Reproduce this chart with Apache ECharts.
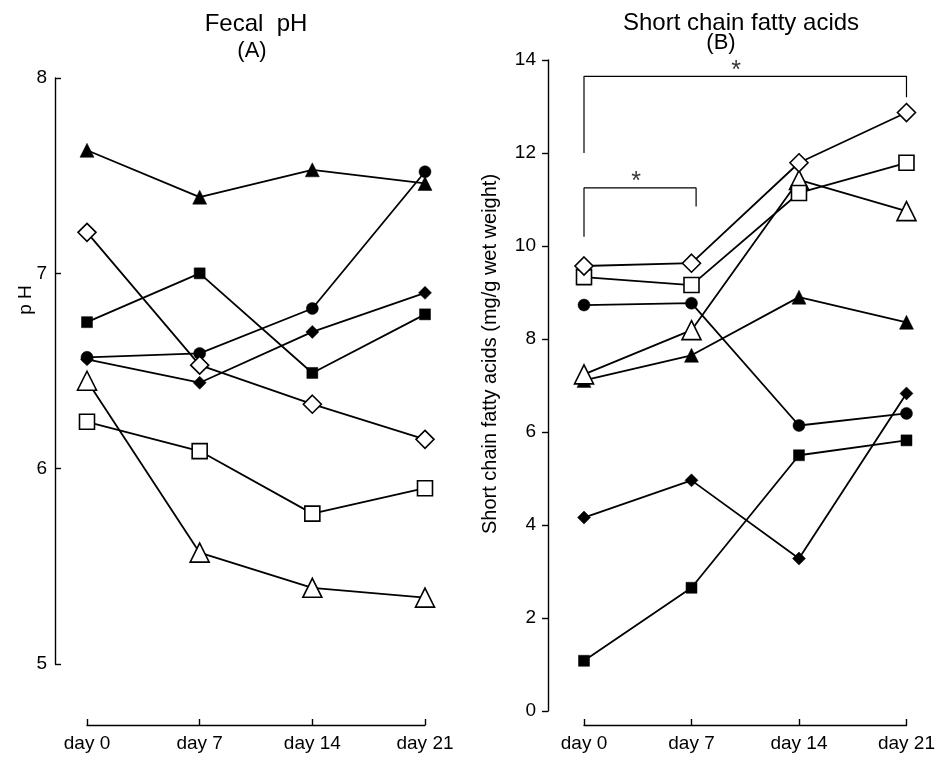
<!DOCTYPE html>
<html>
<head>
<meta charset="utf-8">
<script src="https://cdn.jsdelivr.net/npm/echarts@6/dist/echarts.min.js"></script>
<style>
html,body{margin:0;padding:0;background:#fff;}
#chart{width:938px;height:760px;}
</style>
</head>
<body>
<div id="chart"></div>
<script>
// ---- data ----
const days = [0, 7, 14, 21];
const dayLabels = ['day 0', 'day 7', 'day 14', 'day 21'];
const phTicks = [5, 6, 7, 8];
const scfaTicks = [0, 2, 4, 6, 8, 10, 12, 14];

// Panel A: Fecal pH
const phFilledTriangle = [7.63, 7.39, 7.53, 7.46];
const phFilledCircle   = [6.57, 6.59, 6.82, 7.52];
const phOpenDiamond    = [7.21, 6.53, 6.33, 6.15];
const phFilledSquare   = [6.75, 7.00, 6.49, 6.79];
const phFilledDiamond  = [6.56, 6.44, 6.70, 6.90];
const phOpenTriangle   = [6.45, 5.57, 5.39, 5.34];
const phOpenSquare     = [6.24, 6.09, 5.77, 5.90];

// Panel B: Short chain fatty acids
const scfaOpenDiamond    = [9.57, 9.63, 11.79, 12.87];
const scfaOpenSquare     = [9.33, 9.16, 11.14, 11.79];
const scfaFilledCircle   = [8.73, 8.77, 6.14, 6.40];
const scfaOpenTriangle   = [7.24, 8.19, 11.42, 10.75];
const scfaFilledTriangle = [7.11, 7.65, 8.90, 8.36];
const scfaFilledDiamond  = [4.16, 4.96, 3.28, 6.83];
const scfaFilledSquare   = [1.08, 2.65, 5.50, 5.82];

// significance brackets (panel B), in data units [day, value]
const bracketAll = [[0, 12.0], [0, 13.65], [21, 13.65], [21, 13.2]];
const bracket7   = [[0, 10.2], [0, 11.25], [7.3, 11.25], [7.3, 10.85]];
const starMarks  = [[9.9, 13.65], [3.4, 11.25]];

// ---- build ----
const FONT = 'Liberation Sans, Arial, Helvetica, sans-serif';
const chart = echarts.init(document.getElementById('chart'));

const shapes = {
  filledTriangle: {symbol: 'triangle', size: 14, fill: '#000'},
  filledCircle:   {symbol: 'circle',   size: 12, fill: '#000'},
  openDiamond:    {symbol: 'diamond',  size: 18, fill: '#fff'},
  filledSquare:   {symbol: 'rect',     size: 11, fill: '#000'},
  filledDiamond:  {symbol: 'diamond',  size: 13, fill: '#000'},
  openTriangle:   {symbol: 'triangle', size: 19, fill: '#fff'},
  openSquare:     {symbol: 'rect',     size: 15, fill: '#fff'}
};

function pairs(vals){ return days.map((d,i)=>[d, vals[i]]); }

const series = [];
function addGroup(gi, list){
  list.forEach(([key, vals])=>{
    series.push({
      type: 'line', xAxisIndex: gi, yAxisIndex: gi,
      data: pairs(vals), showSymbol: false, z: 2, silent: true,
      lineStyle: {color: '#000', width: 1.8}
    });
  });
  list.forEach(([key, vals])=>{
    const s = shapes[key];
    series.push({
      type: 'scatter', xAxisIndex: gi, yAxisIndex: gi,
      data: pairs(vals), symbol: s.symbol, symbolSize: s.size, z: 3, silent: true,
      itemStyle: {color: s.fill, borderColor: '#000', borderWidth: s.fill === '#fff' ? 1.6 : 0.5, opacity: 1}
    });
  });
}
addGroup(0, [
  ['filledTriangle', phFilledTriangle],
  ['filledSquare', phFilledSquare],
  ['filledDiamond', phFilledDiamond],
  ['filledCircle', phFilledCircle],
  ['openSquare', phOpenSquare],
  ['openTriangle', phOpenTriangle],
  ['openDiamond', phOpenDiamond]
]);
addGroup(1, [
  ['filledSquare', scfaFilledSquare],
  ['filledDiamond', scfaFilledDiamond],
  ['filledCircle', scfaFilledCircle],
  ['filledTriangle', scfaFilledTriangle],
  ['openTriangle', scfaOpenTriangle],
  ['openSquare', scfaOpenSquare],
  ['openDiamond', scfaOpenDiamond]
]);
[bracketAll, bracket7].forEach(b=>{
  series.push({type: 'line', xAxisIndex: 1, yAxisIndex: 1, data: b, showSymbol: false, silent: true,
    lineStyle: {color: '#000', width: 1.2}, z: 1});
});
series.push({type: 'scatter', xAxisIndex: 1, yAxisIndex: 1, data: starMarks, symbolSize: 0, silent: true,
  label: {show: true, formatter: '*', position: 'top', distance: -7, color: '#000', fontSize: 25, fontFamily: FONT}});

function xAxisCfg(gi, offset){
  return {
    type: 'value', gridIndex: gi, min: 0, max: 21, interval: 7, offset: offset,
    axisLine: {show: true, onZero: false, lineStyle: {color: '#000', width: 1.4}},
    axisTick: {show: true, inside: true, length: 6, lineStyle: {color: '#000', width: 1.4}},
    splitLine: {show: false},
    axisLabel: {color: '#000', fontSize: 19, fontFamily: FONT, margin: 9,
      formatter: v => dayLabels[days.indexOf(v)] || ''}
  };
}
function yAxisCfg(gi, min, max, interval, ticks, inside, offset){
  return {
    type: 'value', gridIndex: gi, min: min, max: max, interval: interval, offset: offset,
    axisLine: {show: true, onZero: false, lineStyle: {color: '#000', width: 1.4}},
    axisTick: {show: true, inside: inside, length: 6, lineStyle: {color: '#000', width: 1.4}},
    splitLine: {show: false},
    axisLabel: {color: '#000', fontSize: 19, fontFamily: FONT, margin: inside ? 8 : 12,
      formatter: v => ticks.indexOf(v) >= 0 ? String(v) : ''}
  };
}

chart.setOption({
  animation: false,
  backgroundColor: '#fff',
  grid: [
    {left: 87, right: 938 - 425, top: 78, bottom: 760 - 664},
    {left: 584, right: 938 - 917, top: 60, bottom: 760 - 711}
  ],
  xAxis: [xAxisCfg(0, 61), xAxisCfg(1, 14)],
  yAxis: [yAxisCfg(0, 5, 8, 1, phTicks, true, 32), yAxisCfg(1, 0, 14, 2, scfaTicks, false, 36)],
  series: series,
  graphic: [
    {type: 'text', x: 256, y: 24, style: {text: 'Fecal  pH', font: '24px ' + FONT, fill: '#000', textAlign: 'center', textVerticalAlign: 'middle'}},
    {type: 'text', x: 252, y: 51, style: {text: '(A)', font: '22px ' + FONT, fill: '#000', textAlign: 'center', textVerticalAlign: 'middle'}},
    {type: 'text', x: 741, y: 23, style: {text: 'Short chain fatty acids', font: '24px ' + FONT, fill: '#000', textAlign: 'center', textVerticalAlign: 'middle'}},
    {type: 'text', x: 721, y: 43, style: {text: '(B)', font: '22px ' + FONT, fill: '#000', textAlign: 'center', textVerticalAlign: 'middle'}},
    {type: 'text', x: 26, y: 300, rotation: Math.PI / 2, style: {text: 'p H', font: '19px ' + FONT, fill: '#000', textAlign: 'center', textVerticalAlign: 'middle'}},
    {type: 'text', x: 490, y: 354, rotation: Math.PI / 2, style: {text: 'Short chain fatty acids (mg/g wet weight)', font: '20px ' + FONT, fill: '#000', textAlign: 'center', textVerticalAlign: 'middle'}}
  ]
});
</script>
</body>
</html>
